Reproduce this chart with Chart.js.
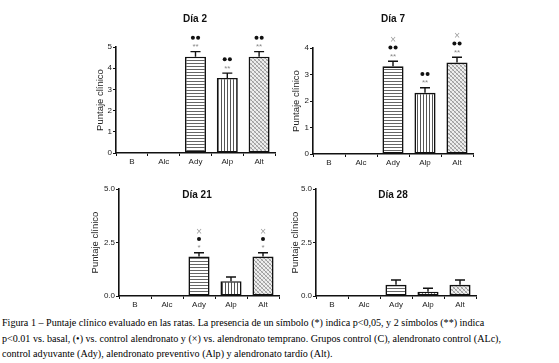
<!DOCTYPE html>
<html>
<head>
<meta charset="utf-8">
<script src="https://cdn.jsdelivr.net/npm/chart.js@4.4.1/dist/chart.umd.min.js"></script>
<style>
  html, body { margin: 0; padding: 0; background: #fff; }
  body { width: 559px; height: 363px; position: relative; overflow: hidden; }
  .panel { position: absolute; }
  #caption {
    position: absolute; left: 2px; top: 315px; width: 557px;
    font-family: "Liberation Serif", serif; font-size: 10.1px; line-height: 15.5px; color: #000;
    white-space: nowrap;
  }
</style>
</head>
<body>
<div class="panel" style="left:95px;top:0px;width:190px;height:169px"><canvas id="c2"></canvas></div>
<div class="panel" style="left:291px;top:0px;width:192px;height:170px"><canvas id="c7"></canvas></div>
<div class="panel" style="left:90px;top:180px;width:199px;height:132px"><canvas id="c21"></canvas></div>
<div class="panel" style="left:290px;top:180px;width:196px;height:132px"><canvas id="c28"></canvas></div>
<div id="caption">Figura 1 – Puntaje clínico evaluado en las ratas. La presencia de un símbolo (*) indica p&lt;0,05, y 2 símbolos (**) indica<br>p&lt;0.01 vs. basal, (•) vs. control alendronato y (×) vs. alendronato temprano. Grupos control (C), alendronato control (ALc),<br>control adyuvante (Ady), alendronato preventivo (Alp) y alendronato tardío (Alt).</div>
<script>
// --- datos ---
const categories = ['B', 'Alc', 'Ady', 'Alp', 'Alt'];

const dia2Values = [0, 0, 4.54, 3.54, 4.54];
const dia2Errors = [0, 0, 0.24, 0.23, 0.24];
const dia2Marks = [[], [], ['**', '●●'], ['**', '●●'], ['**', '●●']];
const dia2Ticks = [0, 1, 2, 3, 4, 5];
const dia2TickLabels = ['0', '1', '2', '3', '4', '5'];

const dia7Values = [0, 0, 3.31, 2.31, 3.45];
const dia7Errors = [0, 0, 0.19, 0.19, 0.2];
const dia7Marks = [[], [], ['**', '●●', '×'], ['**', '●●'], ['**', '●●', '×']];
const dia7Ticks = [0, 1, 2, 3, 4];
const dia7TickLabels = ['0', '1', '2', '3', '4'];

const dia21Values = [0, 0, 1.84, 0.69, 1.84];
const dia21Errors = [0, 0, 0.18, 0.2, 0.18];
const dia21Marks = [[], [], ['*', '●', '×'], [], ['*', '●', '×']];

const dia28Values = [0, 0, 0.52, 0.2, 0.52];
const dia28Errors = [0, 0, 0.23, 0.16, 0.23];
const dia28Marks = [[], [], [], [], []];

const longTicks = [0, 2.5, 5];
const longTickLabels = ['0.0', '2.5', '5.0'];

// -----------------------------------------------------------------
// Tramas de las barras
// -----------------------------------------------------------------
function makePattern(kind) {
  const c = document.createElement('canvas');
  const g = c.getContext('2d');
  if (kind === 'h') {
    c.width = 4; c.height = 3;
    g.fillStyle = '#fff'; g.fillRect(0, 0, 4, 3);
    g.fillStyle = '#666'; g.fillRect(0, 0, 4, 1);
  } else if (kind === 'v') {
    c.width = 3; c.height = 4;
    g.fillStyle = '#fff'; g.fillRect(0, 0, 3, 4);
    g.fillStyle = '#555'; g.fillRect(0, 0, 1, 4);
  } else {
    // trama diagonal cruzada, gris claro
    c.width = 4; c.height = 4;
    g.fillStyle = '#eeeeee'; g.fillRect(0, 0, 4, 4);
    g.fillStyle = '#9a9a9a';
    for (let i = 0; i < 4; i++) {
      g.fillRect(i, i, 1, 1);
    }
    g.fillStyle = '#c4c4c4';
    for (let i = 0; i < 4; i++) {
      if (i !== 3 - i) g.fillRect(i, 3 - i, 1, 1);
    }
  }
  return g.createPattern(c, 'repeat');
}
const fills = ['#fff', '#fff', makePattern('h'), makePattern('v'), makePattern('x')];

// -----------------------------------------------------------------
// Plugin: barras de error, símbolos y título del panel
// -----------------------------------------------------------------
const extrasPlugin = {
  id: 'extras',
  afterDatasetsDraw(chart, args, opts) {
    const ctx = chart.ctx;
    const meta = chart.getDatasetMeta(0);
    const y = chart.scales.y;
    ctx.save();
    meta.data.forEach(function (bar, i) {
      const err = opts.errors[i];
      const v = opts.values[i];
      let topY = y.getPixelForValue(v);
      if (err > 0) {
        topY = y.getPixelForValue(v + err);
        ctx.strokeStyle = '#111';
        ctx.lineWidth = 1.4;
        ctx.beginPath();
        ctx.moveTo(bar.x, y.getPixelForValue(v));
        ctx.lineTo(bar.x, topY);
        ctx.moveTo(bar.x - 5, topY);
        ctx.lineTo(bar.x + 5, topY);
        ctx.stroke();
      }
      ctx.textAlign = 'center';
      ctx.textBaseline = 'middle';
      (opts.marks[i] || []).forEach(function (m, k) {
        const my = topY - 6.5 - k * 7.3;
        if (m.indexOf('*') === 0) {
          ctx.fillStyle = '#888';
          ctx.font = '8px Arial, "Liberation Sans", sans-serif';
          ctx.fillText(m, bar.x, my + 1.8);
        } else if (m.indexOf('●') === 0) {
          ctx.fillStyle = '#111';
          const n = m.length;
          for (let d = 0; d < n; d++) {
            ctx.beginPath();
            ctx.arc(bar.x + (d - (n - 1) / 2) * 5.2, my, 2, 0, Math.PI * 2);
            ctx.fill();
          }
        } else {
          ctx.fillStyle = '#999';
          ctx.font = '8px "DejaVu Sans", sans-serif';
          ctx.fillText(m, bar.x, my);
        }
      });
    });
    ctx.fillStyle = '#111';
    ctx.font = 'bold 10px Arial, "Liberation Sans", sans-serif';
    ctx.textAlign = 'center';
    ctx.textBaseline = 'middle';
    ctx.fillText(opts.title, opts.titleX, opts.titleY);
    ctx.restore();
  }
};

function buildChart(id, cfg) {
  new Chart(document.getElementById(id), {
    type: 'bar',
    data: {
      labels: categories,
      datasets: [{
        data: cfg.values,
        backgroundColor: fills,
        borderColor: '#111',
        borderWidth: 1.6,
        borderSkipped: false,
        barPercentage: 0.66,
        categoryPercentage: 1,
      }],
    },
    options: {
      responsive: true,
      maintainAspectRatio: false,
      animation: false,
      events: [],
      layout: { padding: { left: 0, top: cfg.padTop, right: cfg.padRight, bottom: 0 } },
      plugins: {
        legend: { display: false },
        tooltip: { enabled: false },
        extras: {
          errors: cfg.errors, values: cfg.values, marks: cfg.marks,
          title: cfg.title, titleX: cfg.titleX, titleY: cfg.titleY,
        },
      },
      scales: {
        x: {
          offset: true,
          grid: { display: true, drawOnChartArea: false, drawTicks: true, tickLength: 3, color: '#111', lineWidth: 1 },
          border: { display: true, color: '#111', width: 1.6 },
          ticks: { color: '#222', padding: 1, font: { size: 8, family: 'Arial, "Liberation Sans", sans-serif' }, maxRotation: 0 },
          afterFit: function (s) { s.height = 16; },
        },
        y: {
          min: 0,
          max: cfg.ticks[cfg.ticks.length - 1],
          afterBuildTicks: function (s) { s.ticks = cfg.ticks.map(function (v) { return { value: v }; }); },
          grid: { display: true, drawOnChartArea: false, drawTicks: true, tickLength: 3, color: '#111', lineWidth: 1 },
          border: { display: true, color: '#111', width: 1.6 },
          ticks: {
            color: '#222', padding: 1,
            font: { size: 8, family: 'Arial, "Liberation Sans", sans-serif' },
            callback: function (v) { return cfg.tickLabels[cfg.ticks.indexOf(v)]; },
          },
          title: {
            display: true, text: 'Puntaje clínico', color: '#222', padding: 0,
            font: { size: 9.5, family: 'Arial, "Liberation Sans", sans-serif' },
          },
          afterFit: function (s) { s.width = cfg.yWidth; },
        },
      },
    },
    plugins: [extrasPlugin],
  });
}

buildChart('c2', { values: dia2Values, errors: dia2Errors, marks: dia2Marks, ticks: dia2Ticks, tickLabels: dia2TickLabels,
  title: 'Día 2', titleX: 100, titleY: 19, padTop: 47, padRight: 10, yWidth: 21 });
buildChart('c7', { values: dia7Values, errors: dia7Errors, marks: dia7Marks, ticks: dia7Ticks, tickLabels: dia7TickLabels,
  title: 'Día 7', titleX: 102, titleY: 19, padTop: 48, padRight: 10, yWidth: 22 });
buildChart('c21', { values: dia21Values, errors: dia21Errors, marks: dia21Marks, ticks: longTicks, tickLabels: longTickLabels,
  title: 'Día 21', titleX: 107, titleY: 15, padTop: 9, padRight: 10, yWidth: 29 });
buildChart('c28', { values: dia28Values, errors: dia28Errors, marks: dia28Marks, ticks: longTicks, tickLabels: longTickLabels,
  title: 'Día 28', titleX: 103, titleY: 15, padTop: 9, padRight: 10, yWidth: 26 });
</script>
</body>
</html>
